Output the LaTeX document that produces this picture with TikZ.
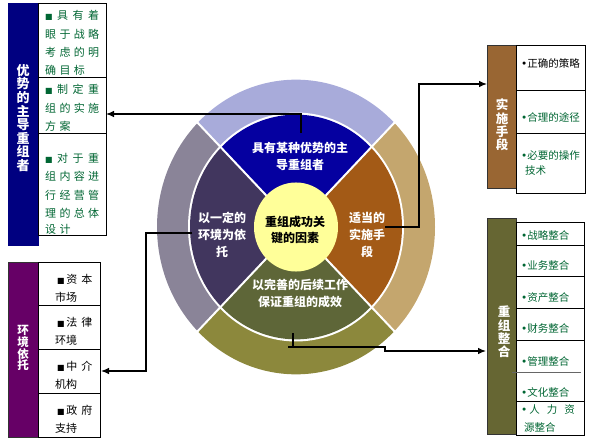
\documentclass[tikz,border=0pt]{standalone}
\usepackage{fontspec}
\newfontfamily\cjk{Noto Sans CJK SC}
\newfontfamily\symf{DejaVu Sans}
\usetikzlibrary{arrows.meta}
\definecolor{navyc}{RGB}{0,0,128}
\definecolor{purpc}{RGB}{102,0,102}
\definecolor{brownc}{RGB}{153,102,51}
\definecolor{olivec}{RGB}{102,102,51}
\definecolor{txtg}{RGB}{0,102,51}
\definecolor{oTop}{RGB}{168,171,218}
\definecolor{oRight}{RGB}{196,166,110}
\definecolor{oBot}{RGB}{140,136,60}
\definecolor{oLeft}{RGB}{138,132,152}
\definecolor{iTop}{RGB}{5,0,160}
\definecolor{iRight}{RGB}{163,90,22}
\definecolor{iBot}{RGB}{94,102,56}
\definecolor{iLeft}{RGB}{65,54,94}
\definecolor{yel}{RGB}{255,255,153}
\newcommand\g{\hspace{3.3pt}}
\newcommand\sq{{\symf\fontsize{8}{8}\selectfont■}}
\newcommand\bul{{\symf •}}
\newcommand\sline[1]{\makebox[54pt][s]{#1}}
\begin{document}
\begin{tikzpicture}[x=1pt,y=-1pt,
  bar/.style={draw=black!80,line width=0.8pt,inner sep=0pt,outer sep=0pt,anchor=north west},
  cell/.style={draw=black,line width=0.8pt,fill=white,inner sep=0pt,outer sep=0pt,anchor=north west},
  vtxt/.style={text=white,align=center,font=\cjk\bfseries\fontsize{12.5}{13.4}\selectfont},
  gtxt/.style={text=txtg,inner sep=0pt,anchor=west,font=\cjk\fontsize{10.5}{12}\selectfont},
  ltxt/.style={text=txtg,inner sep=0pt,anchor=west,font=\cjk\fontsize{11}{12}\selectfont},
  seclab/.style={text=white,align=center,inner sep=0pt,font=\cjk\bfseries\fontsize{12}{17}\selectfont},
  conn/.style={draw=black,line width=1.1pt},
  arr/.style={conn,-{Latex[length=8pt,width=6.5pt]}}]
\useasboundingbox (0,0) rectangle (595,441);
% ---------- ring ----------
\begin{scope}[shift={(296,227)},yscale=1.06]
  \fill[oTop] (0,0) -- (45:139pt) arc[start angle=45,end angle=135,radius=139pt] -- cycle;
  \fill[oLeft] (0,0) -- (135:139pt) arc[start angle=135,end angle=225,radius=139pt] -- cycle;
  \fill[oBot] (0,0) -- (225:139pt) arc[start angle=225,end angle=315,radius=139pt] -- cycle;
  \fill[oRight] (0,0) -- (-45:139pt) arc[start angle=-45,end angle=45,radius=139pt] -- cycle;
  \fill[white] (0,0) circle[radius=108pt];
  \fill[iTop] (0,0) -- (45:106pt) arc[start angle=45,end angle=135,radius=106pt] -- cycle;
  \fill[iLeft] (0,0) -- (135:106pt) arc[start angle=135,end angle=225,radius=106pt] -- cycle;
  \fill[iBot] (0,0) -- (225:106pt) arc[start angle=225,end angle=315,radius=106pt] -- cycle;
  \fill[iRight] (0,0) -- (-45:106pt) arc[start angle=-45,end angle=45,radius=106pt] -- cycle;
  \foreach \a in {45,135,225,315} \draw[white,line width=2pt] (0,0) -- (\a:140pt);
  \fill[yel] (0,0) circle[radius=42pt];
\end{scope}
\node[seclab] (sTop) at (300,156) {具有某种优势的主\\导重组者};
\node[seclab] (sLeft) at (222,235) {以一定的\\环境为依\\托};
\node[seclab] (sRight) at (367,235) {适当的\\实施手\\段};
\node[seclab] (sBot) at (300,293) {以完善的后续工作\\保证重组的成效};
\node[seclab,text=black,font=\cjk\bfseries\fontsize{12}{16}\selectfont] (ctr) at (295,230) {重组成功关\\键的因素};
% ---------- top-left group ----------
\node[bar,fill=navyc,draw=navyc,minimum width=30pt,minimum height=242pt] (bar1) at (8,3) {};
\node[vtxt,font=\cjk\bfseries\fontsize{13}{13.6}\selectfont] (bar1t) at (23,118) {优\\势\\的\\主\\导\\重\\组\\者};
\node[cell,minimum width=68pt,minimum height=74pt] (b11) at (38,3) {};
\node[cell,minimum width=68pt,minimum height=56pt] (b12) at (38,77) {};
\node[cell,minimum width=68pt,minimum height=102pt] (b13) at (38,133) {};
\node[ltxt] (b11a) at (45,15) {\sline{\sq\hfill 具\hfill 有\hfill 着}};
\node[ltxt] (b11b) at (45,34) {\sline{眼\hfill 于\hfill 战\hfill 略}};
\node[ltxt] (b11c) at (45,52) {\sline{考\hfill 虑\hfill 的\hfill 明}};
\node[ltxt] (b11d) at (45,70) {确\g 目\g 标};
\node[ltxt] (b12a) at (45,89) {\sline{\sq\hfill 制\hfill 定\hfill 重}};
\node[ltxt] (b12b) at (45,108) {\sline{组\hfill 的\hfill 实\hfill 施}};
\node[ltxt] (b12c) at (45,126) {方\g 案};
\node[ltxt] (b13a) at (45,158) {\sline{\sq\hfill 对\hfill 于\hfill 重}};
\node[ltxt] (b13b) at (45,176.5) {\sline{组\hfill 内\hfill 容\hfill 进}};
\node[ltxt] (b13c) at (45,195) {\sline{行\hfill 经\hfill 营\hfill 管}};
\node[ltxt] (b13d) at (45,213) {\sline{理\hfill 的\hfill 总\hfill 体}};
\node[ltxt] (b13e) at (45,229) {设\g 计};
% ---------- bottom-left group ----------
\node[bar,fill=purpc,minimum width=30pt,minimum height=175pt] (bar2) at (8,262) {};
\node[vtxt,font=\cjk\bfseries\fontsize{11.5}{11.8}\selectfont] (bar2t) at (23,348) {环\\境\\依\\托};
\node[cell,minimum width=62pt,minimum height=43pt] (b21) at (38,262) {};
\node[cell,minimum width=62pt,minimum height=44pt] (b22) at (38,305) {};
\node[cell,minimum width=62pt,minimum height=44pt] (b23) at (38,349) {};
\node[cell,minimum width=62pt,minimum height=44pt] (b24) at (38,393) {};
\foreach \n/\y/\a/\b/\c/\d in {b21/262/资/本/市/场, b22/305/法/律/环/境, b23/349/中/介/机/构, b24/393/政/府/支/持}{
  \node[ltxt,text=black] (\n a) at (57,\y+17.5) {\sq\hspace{1.5pt}\a\hspace{4pt}\b};
  \node[ltxt,text=black] (\n b) at (55,\y+35) {\c\d};
}
% ---------- top-right group ----------
\node[bar,fill=brownc,minimum width=29pt,minimum height=143pt] (bar3) at (487,45) {};
\node[vtxt] (bar3t) at (502,125) {实\\施\\手\\段};
\node[cell,minimum width=69pt,minimum height=45pt] (b31) at (516,45) {};
\node[cell,minimum width=69pt,minimum height=43pt] (b32) at (516,90) {};
\node[cell,minimum width=69pt,minimum height=60pt] (b33) at (516,133) {};
\node[gtxt,text=black] (b31a) at (521,63) {\bul 正确的策略};
\node[gtxt] (b32a) at (521,117) {\bul 合理的途径};
\node[gtxt] (b33a) at (521,155) {\bul 必要的操作};
\node[gtxt] (b33b) at (525,171) {技术};
% ---------- bottom-right group ----------
\node[bar,fill=olivec,minimum width=29pt,minimum height=216pt] (bar4) at (487,218) {};
\node[vtxt] (bar4t) at (504,332) {重\\组\\整\\合};
\node[cell,minimum width=68pt,minimum height=23pt] (b41) at (516,222) {};
\node[cell,minimum width=68pt,minimum height=31pt] (b42) at (516,245) {};
\node[cell,minimum width=68pt,minimum height=32pt] (b43) at (516,276) {};
\node[cell,minimum width=68pt,minimum height=32pt] (b44) at (516,308) {};
\node[cell,minimum width=68pt,minimum height=61pt] (b45) at (516,340) {};
\node[cell,minimum width=68pt,minimum height=34pt] (b46) at (516,401) {};
\draw[black!60,line width=0.8pt] (512,372) -- (581,372);
\node[gtxt] (b41a) at (521,235) {\bul 战略整合};
\node[gtxt] (b42a) at (521,265) {\bul 业务整合};
\node[gtxt] (b43a) at (521,298) {\bul 资产整合};
\node[gtxt] (b44a) at (521,328) {\bul 财务整合};
\node[gtxt] (b45a) at (521,361) {\bul 管理整合};
\node[gtxt] (b45b) at (521,392) {\bul 文化整合};
\node[gtxt] (b46a) at (521,410) {\bul\hspace{2pt}人\hspace{7pt}力\hspace{7pt}资};
\node[gtxt] (b46b) at (524,427) {源整合};
% ---------- connectors ----------
\coordinate (c1) at (301,133);
\coordinate (t1) at (106,114);
\draw[arr] (c1) |- (t1);
\coordinate (c2) at (192,233);
\coordinate (t2) at (101,371);
\draw[arr] (c2) -- (146,233) |- (t2);
\coordinate (c3) at (385,227);
\coordinate (t3) at (487,84);
\draw[arr] (c3) -- (419,227) |- (t3);
\coordinate (c4) at (293,333);
\coordinate (c4b) at (288,347);
\coordinate (t4) at (486,351);
\draw[conn] (c4) -- (293,347);
\draw[arr] (c4b) -- (385,347) |- (t4);
\end{tikzpicture}
\end{document}
